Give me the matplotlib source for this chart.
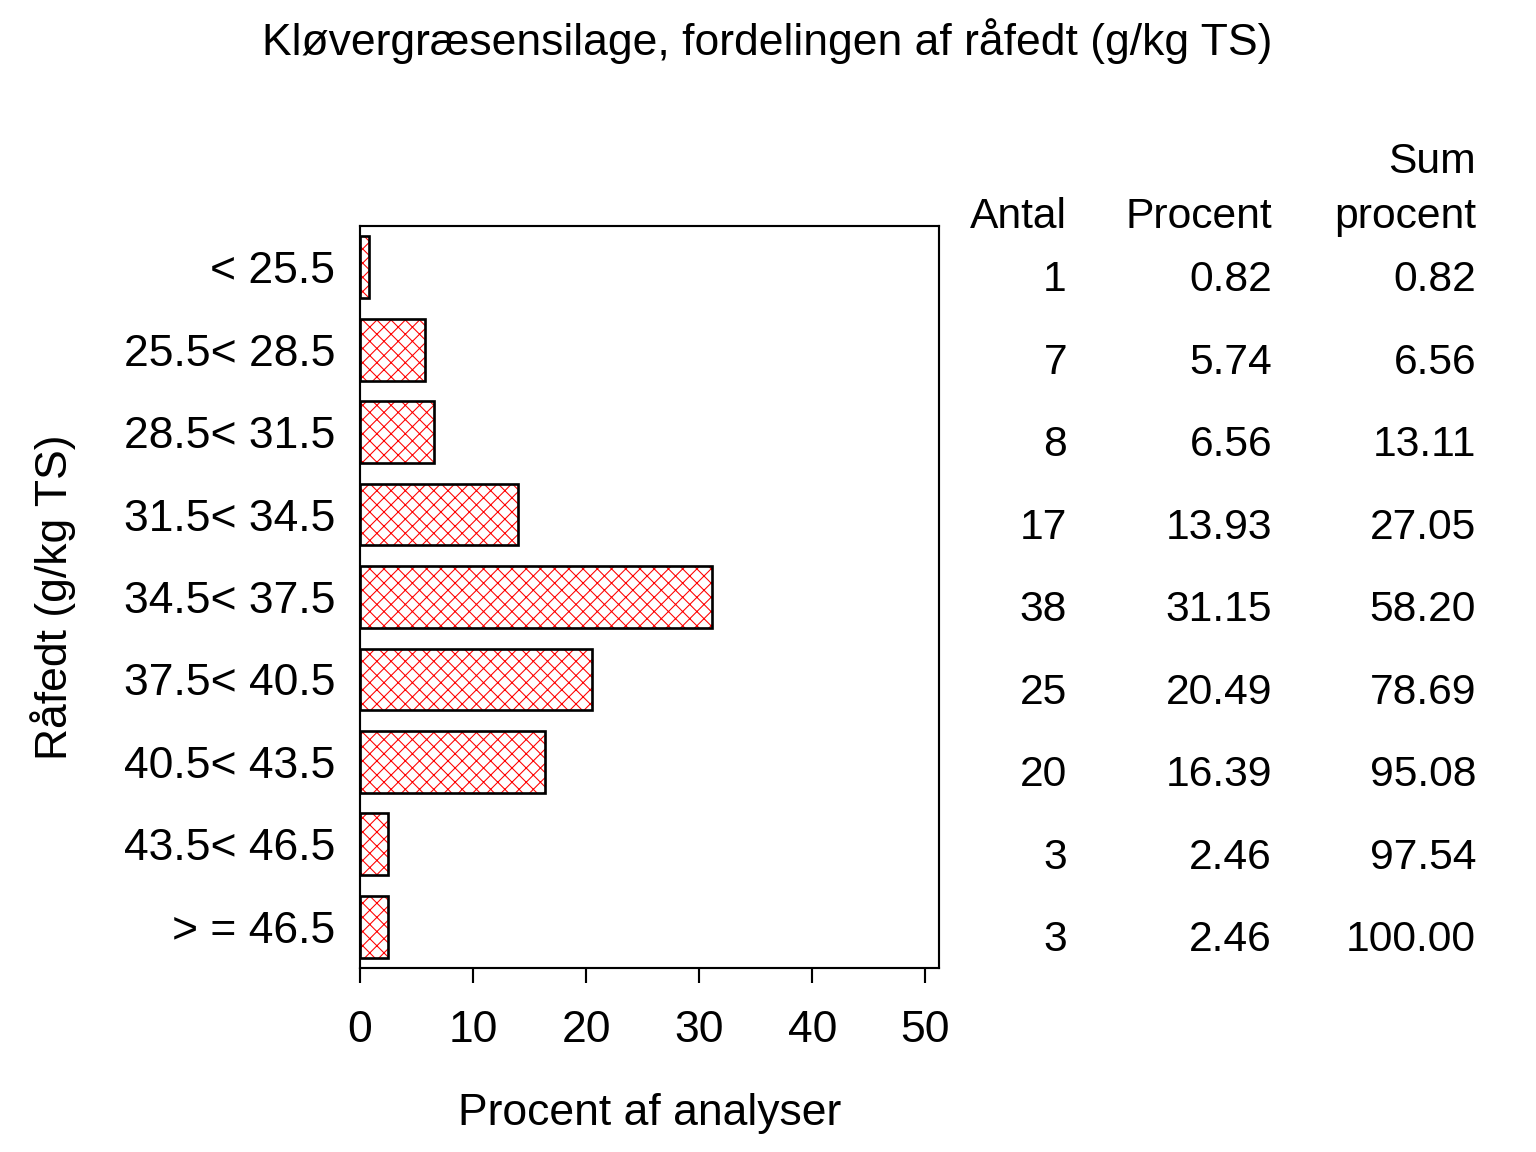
import numpy as np
import matplotlib.pyplot as plt
import matplotlib.transforms as mtransforms

plt.rcParams['font.family'] = ['Liberation Sans', 'DejaVu Sans']
plt.rcParams['hatch.linewidth'] = 0.6

categories = ['< 25.5', '25.5< 28.5', '28.5< 31.5', '31.5< 34.5', '34.5< 37.5',
              '37.5< 40.5', '40.5< 43.5', '43.5< 46.5', '> = 46.5']
antal = [1, 7, 8, 17, 38, 25, 20, 3, 3]
procent = [0.82, 5.74, 6.56, 13.93, 31.15, 20.49, 16.39, 2.46, 2.46]
sum_procent = [0.82, 6.56, 13.11, 27.05, 58.20, 78.69, 95.08, 97.54, 100.00]
xticks = [0, 10, 20, 30, 40, 50]

W, H = 1536, 1152
fig = plt.figure(figsize=(12, 9), dpi=128)
ax = fig.add_axes([360 / W, 1 - 968 / H, (939 - 360) / W, (968 - 226) / H])

fs = 25
fs_tab = 24
y = np.arange(len(categories))
# hatch layer, then black outline on top
ax.barh(y, procent, height=0.75, color='white', edgecolor='red', hatch='xxx', linewidth=0)
ax.barh(y, procent, height=0.75, fill=False, edgecolor='black', linewidth=1.5)

ax.set_xlim(0, 51.2)
ax.set_ylim(8.5, -0.5)
ax.set_yticks(y)
ax.set_yticklabels(categories, fontsize=fs)
ax.tick_params(axis='y', length=0, pad=14)
ax.set_xticks(xticks)
ax.set_xticklabels([str(t) for t in xticks], fontsize=fs)
ax.tick_params(axis='x', length=8.4, width=1.2, pad=15, direction='out')
for s in ax.spines.values():
    s.set_linewidth(1.2)

ax.set_xlabel('Procent af analyser', fontsize=fs)
ax.xaxis.set_label_coords(0.5, -0.168)
ax.set_ylabel('Råfedt (g/kg TS)', fontsize=fs)
ax.yaxis.set_label_coords(-0.49, 0.5)

fig.text(767 / W, 1 - 55 / H, 'Kløvergræsensilage, fordelingen af råfedt (g/kg TS)',
         ha='center', va='baseline', fontsize=fs)

# table on the right
trans = mtransforms.blended_transform_factory(fig.transFigure, ax.transData)
cols = [(1067, antal, '{:d}'), (1272, procent, '{:.2f}'), (1476, sum_procent, '{:.2f}')]
for xpix, vals, fmt in cols:
    for i, v in enumerate(vals):
        ax.text(xpix / W, i + 0.16, fmt.format(v), transform=trans, ha='right',
                va='center', fontsize=fs_tab, clip_on=False)

fig.text(1067 / W, 1 - 228 / H, 'Antal', ha='right', va='baseline', fontsize=fs_tab)
fig.text(1272 / W, 1 - 228 / H, 'Procent', ha='right', va='baseline', fontsize=fs_tab)
fig.text(1476 / W, 1 - 173 / H, 'Sum', ha='right', va='baseline', fontsize=fs_tab)
fig.text(1476 / W, 1 - 228 / H, 'procent', ha='right', va='baseline', fontsize=fs_tab)

fig.savefig('out.png', dpi=128)
